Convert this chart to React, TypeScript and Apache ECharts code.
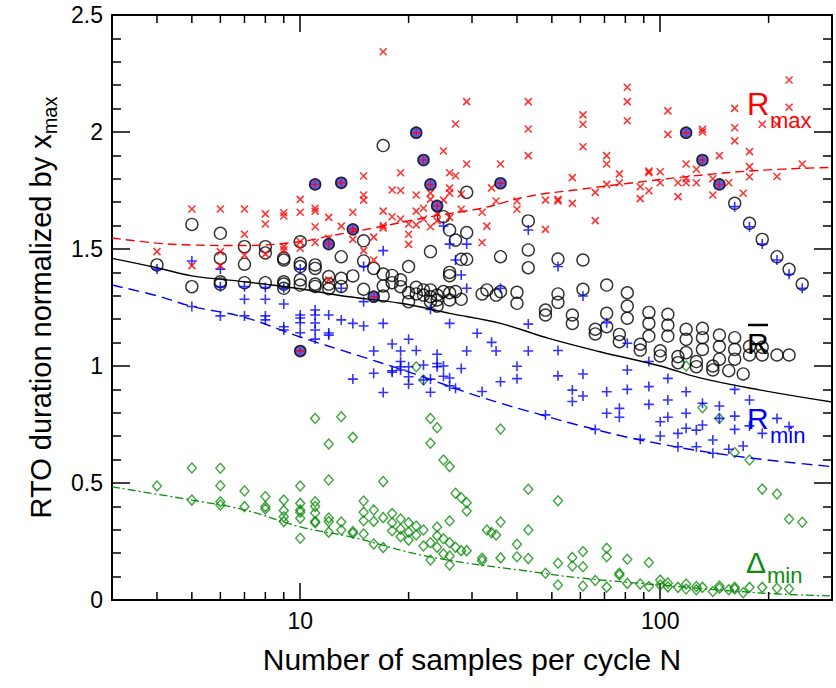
import React, { useEffect, useRef } from "react";
import * as echarts from "echarts";

// ---- Data ----
const xMinorTicks: number[] = [4, 5, 6, 7, 8, 9, 20, 30, 40, 50, 60, 70, 80, 90, 200];
const xLabelValues: number[] = [10, 100];

// R_max (red crosses)
const rMax: [number, number][] = [
  [4, 1.489],
  [5, 1.671], [5, 1.429],
  [6, 1.671], [6, 1.489], [6, 1.429],
  [7, 1.671], [7, 1.563], [7, 1.474],
  [8, 1.65], [8, 1.607], [8, 1.479],
  [9, 1.655], [9, 1.641], [9, 1.51], [9, 1.496],
  [10, 1.712], [10, 1.657], [10, 1.531], [10, 1.503],
  [11, 1.674], [11, 1.662], [11, 1.595], [11, 1.528],
  [12, 1.635], [12, 1.546], [12, 1.368],
  [13, 1.598],
  [14, 1.657], [14, 1.541],
  [15, 1.812], [15, 1.731], [15, 1.709], [15, 1.493],
  [16, 1.551], [16, 1.453],
  [17, 2.343], [17, 1.662], [17, 1.6], [17, 1.59],
  [18, 1.752], [18, 1.638],
  [19, 1.826], [19, 1.75], [19, 1.628],
  [20, 1.607], [20, 1.563], [20, 1.52],
  [21, 1.731], [21, 1.662], [21, 1.603],
  [22, 1.674], [22, 1.628],
  [23, 1.739], [23, 1.712], [23, 1.595],
  [24, 1.652], [24, 1.62],
  [25, 1.919], [25, 1.709],
  [26, 1.826], [26, 1.76], [26, 1.739], [26, 1.635],
  [27, 2.034], [27, 1.813],
  [28, 1.735], [28, 1.67],
  [29, 2.13], [29, 1.863],
  [32, 1.657], [32, 1.528],
  [33, 1.598], [34, 1.761], [35, 1.705], [36, 1.863],
  [40, 1.705], [40, 1.67],
  [43, 2.13], [43, 2.013], [43, 1.899],
  [48, 1.709], [48, 1.584],
  [52, 1.712], [52, 1.705],
  [57, 1.805], [57, 1.695],
  [61, 2.073], [61, 2.033], [61, 1.937],
  [66, 1.742], [66, 1.621],
  [71, 1.899], [71, 1.863], [71, 1.776],
  [77, 1.821], [77, 1.783],
  [81, 2.191], [81, 2.13], [81, 2.048],
  [88, 1.766], [88, 1.715],
  [93, 1.833], [93, 1.826], [93, 1.749],
  [100, 1.83], [100, 1.783],
  [105, 2.09], [105, 1.99],
  [112, 1.783], [112, 1.724],
  [118, 1.863], [118, 1.8], [118, 1.783],
  [126, 1.841], [126, 1.783],
  [131, 2.011], [131, 2.0],
  [140, 1.8], [140, 1.731],
  [146, 1.899], [155, 1.783],
  [161, 2.101], [161, 2.018], [161, 1.962],
  [170, 1.738],
  [177, 1.916], [177, 1.852], [177, 1.809],
  [192, 2.033],
  [211, 2.033], [211, 1.81],
  [228, 2.222], [228, 2.106],
  [248, 1.863],
];

// R mean (black open circles)
const rMean: [number, number][] = [
  [4, 1.432],
  [5, 1.605], [5, 1.339],
  [6, 1.567], [6, 1.461], [6, 1.36], [6, 1.35],
  [7, 1.51], [7, 1.435], [7, 1.356],
  [8, 1.51], [8, 1.483], [8, 1.356],
  [9, 1.461], [9, 1.453], [9, 1.36], [9, 1.35], [9, 1.332],
  [10, 1.531], [10, 1.439], [10, 1.425], [10, 1.368], [10, 1.346],
  [11, 1.432], [11, 1.417], [11, 1.35], [11, 1.34],
  [12, 1.382], [12, 1.35], [12, 1.33],
  [13, 1.467], [13, 1.375], [13, 1.34],
  [14, 1.385],
  [15, 1.535], [15, 1.449], [15, 1.328],
  [16, 1.417],
  [17, 1.942], [17, 1.393], [17, 1.342], [17, 1.299],
  [18, 1.387], [18, 1.356],
  [19, 1.368], [19, 1.339],
  [20, 1.425], [20, 1.313], [20, 1.275],
  [21, 1.336], [21, 1.308],
  [22, 1.325], [22, 1.303],
  [23, 1.489], [23, 1.325], [23, 1.296], [23, 1.275],
  [24, 1.303], [24, 1.282], [24, 1.256],
  [25, 1.638], [25, 1.318],
  [26, 1.581], [26, 1.4], [26, 1.386], [26, 1.313], [26, 1.282],
  [27, 1.538], [27, 1.318],
  [28, 1.456], [28, 1.285],
  [29, 1.742], [29, 1.57], [29, 1.456],
  [32, 1.308], [33, 1.325], [35, 1.303],
  [36, 1.467], [36, 1.318],
  [40, 1.315], [40, 1.268],
  [43, 1.62], [43, 1.496], [43, 1.42],
  [48, 1.239], [48, 1.218],
  [52, 1.457], [52, 1.308], [52, 1.272],
  [57, 1.218], [57, 1.182],
  [61, 1.453], [61, 1.328],
  [66, 1.157], [66, 1.137],
  [71, 1.346], [71, 1.225], [71, 1.168],
  [77, 1.135], [77, 1.104],
  [81, 1.313], [81, 1.256], [81, 1.204],
  [88, 1.093], [88, 1.068],
  [93, 1.229], [93, 1.182], [93, 1.128],
  [100, 1.065], [100, 1.043],
  [105, 1.221], [105, 1.175], [105, 1.128],
  [112, 1.04], [112, 1.014],
  [118, 1.157], [118, 1.114], [118, 1.057],
  [126, 1.019], [126, 0.997],
  [131, 1.161], [131, 1.121], [131, 1.071],
  [140, 1.0], [140, 0.983],
  [146, 1.132], [146, 1.083], [146, 1.029],
  [155, 0.98],
  [161, 1.695], [161, 1.121], [161, 1.071], [161, 1.029],
  [170, 0.966],
  [177, 1.61], [177, 1.083], [177, 1.047],
  [192, 1.541], [192, 1.08], [192, 1.047],
  [211, 1.467], [211, 1.047],
  [228, 1.413], [228, 1.047],
  [248, 1.35],
];

// R_min (blue plus)
const rMin: [number, number][] = [
  [4, 1.414],
  [5, 1.449], [5, 1.254],
  [6, 1.414], [6, 1.339], [6, 1.214],
  [7, 1.339], [7, 1.285], [7, 1.214],
  [8, 1.335], [8, 1.285], [8, 1.214], [8, 1.197],
  [9, 1.332], [9, 1.265], [9, 1.168], [9, 1.154],
  [10, 1.414], [10, 1.218], [10, 1.205], [10, 1.185], [10, 1.142],
  [11, 1.239], [11, 1.218], [11, 1.184], [11, 1.154], [11, 1.115],
  [12, 1.218], [12, 1.141], [12, 1.132],
  [13, 1.332], [13, 1.197],
  [14, 1.182], [14, 0.944],
  [15, 1.425], [15, 1.275], [15, 1.171],
  [16, 1.064], [16, 0.969],
  [17, 1.493], [17, 1.182], [17, 0.887],
  [18, 1.094], [18, 0.98], [18, 0.973],
  [19, 1.064], [19, 1.019], [19, 0.997], [19, 0.983],
  [20, 1.114], [20, 0.997], [20, 0.954], [20, 0.922],
  [21, 1.066],
  [22, 1.004], [22, 0.94],
  [23, 1.242], [23, 0.944], [23, 0.888],
  [24, 1.05], [24, 1.011], [24, 0.997],
  [25, 1.598], [25, 1.0], [25, 0.956],
  [26, 1.521], [26, 1.182], [26, 0.949], [26, 0.915],
  [27, 1.453], [27, 0.905],
  [28, 1.389], [28, 0.989],
  [29, 1.521], [29, 1.332], [29, 1.064],
  [31, 1.14], [32, 0.891], [34, 1.101], [35, 1.064],
  [36, 1.332], [36, 0.933],
  [40, 0.999], [40, 0.946],
  [43, 1.581], [43, 1.179], [43, 1.064],
  [48, 0.791],
  [52, 1.425], [52, 1.066], [52, 0.958],
  [57, 0.897], [57, 0.848],
  [61, 1.299], [61, 0.966], [61, 0.872],
  [66, 0.729],
  [71, 1.185], [71, 0.89], [71, 0.798],
  [77, 0.819], [77, 0.781],
  [81, 1.097], [81, 0.983], [81, 0.9],
  [88, 0.687],
  [93, 1.019], [93, 0.912], [93, 0.836],
  [100, 0.762], [100, 0.701],
  [105, 0.947], [105, 0.855], [105, 0.781],
  [112, 0.712], [112, 0.655],
  [118, 0.89], [118, 0.798], [118, 0.734],
  [126, 0.726], [126, 0.655],
  [131, 0.841], [131, 0.748],
  [140, 0.684], [140, 0.627],
  [146, 0.829], [146, 0.776],
  [155, 0.644],
  [161, 1.681], [161, 0.9], [161, 0.786], [161, 0.729],
  [170, 0.658],
  [177, 1.595], [177, 0.855], [177, 0.744],
  [192, 1.521], [192, 0.712],
  [211, 1.453], [211, 0.776],
  [228, 1.392], [228, 0.741],
  [248, 1.332],
];

// Delta_min (green open diamonds)
const dMin: [number, number][] = [
  [4, 0.487],
  [5, 0.564], [5, 0.427],
  [6, 0.563], [6, 0.488], [6, 0.42], [6, 0.406],
  [7, 0.466], [7, 0.399],
  [8, 0.442], [8, 0.399], [8, 0.389],
  [9, 0.427], [9, 0.382], [9, 0.356], [9, 0.335],
  [10, 0.487], [10, 0.413], [10, 0.385], [10, 0.375], [10, 0.349], [10, 0.264],
  [11, 0.776], [11, 0.42], [11, 0.4], [11, 0.372], [11, 0.335], [11, 0.33],
  [12, 0.667], [12, 0.513], [12, 0.35], [12, 0.335], [12, 0.29],
  [13, 0.783], [13, 0.333], [13, 0.299],
  [14, 0.695], [14, 0.293], [14, 0.285],
  [15, 0.423], [15, 0.375], [15, 0.339], [15, 0.282],
  [16, 0.385], [16, 0.336], [16, 0.239],
  [17, 0.506], [17, 0.352], [17, 0.224],
  [18, 0.37], [18, 0.33], [18, 0.296],
  [19, 0.346], [19, 0.303], [19, 0.27],
  [20, 0.33], [20, 0.29], [20, 0.256],
  [21, 0.997], [21, 0.316], [21, 0.278],
  [22, 0.94], [22, 0.299], [22, 0.231],
  [23, 0.776], [23, 0.67], [23, 0.245], [23, 0.171],
  [24, 0.736], [24, 0.312], [24, 0.274], [24, 0.225],
  [25, 0.598], [25, 0.262], [25, 0.197],
  [26, 0.57], [26, 0.338], [26, 0.245], [26, 0.188], [26, 0.15],
  [27, 0.456], [27, 0.225],
  [28, 0.437], [28, 0.211],
  [29, 0.416], [29, 0.38], [29, 0.211],
  [32, 0.178], [32, 0.168],
  [33, 0.299], [34, 0.288], [35, 0.278],
  [36, 0.731], [36, 0.333], [36, 0.18],
  [40, 0.238], [40, 0.185],
  [43, 0.473], [43, 0.299], [43, 0.177],
  [48, 0.114],
  [52, 0.424], [52, 0.157], [52, 0.064],
  [57, 0.182], [57, 0.145],
  [61, 0.207], [61, 0.142], [61, 0.06],
  [66, 0.083],
  [71, 0.221], [71, 0.185], [71, 0.055],
  [77, 0.114], [77, 0.107],
  [81, 0.174], [81, 0.071],
  [88, 0.068],
  [93, 0.16], [93, 0.058],
  [100, 0.085], [100, 0.064],
  [105, 0.073], [105, 0.056],
  [112, 0.054],
  [118, 1.0], [118, 0.068], [118, 0.047],
  [126, 0.058], [126, 0.044],
  [131, 0.822], [131, 0.054],
  [140, 0.036],
  [146, 0.776], [146, 0.06], [146, 0.05],
  [155, 0.044],
  [161, 0.63], [161, 0.054], [161, 0.047],
  [170, 0.031],
  [177, 0.598], [177, 0.054],
  [192, 0.474], [192, 0.054],
  [211, 0.453], [211, 0.05],
  [228, 0.346], [228, 0.047],
  [248, 0.332],
];

// Points where R_max = R_mean = R_min (filled markers)
const rSingle: [number, number][] = [
  [10, 1.064], [11, 1.776], [12, 1.521], [13, 1.783], [14, 1.584], [16, 1.296],
  [21, 1.997], [22, 1.88], [23, 1.776], [24, 1.684], [36, 1.781],
  [118, 1.997], [131, 1.88], [146, 1.776],
];

// Fitted curves
const fitMax: [number, number][] = [
  [3, 1.547], [4, 1.525], [5, 1.517], [7, 1.515], [10, 1.531], [12, 1.555], [16, 1.59],
  [23, 1.638], [32, 1.675], [43, 1.725], [60, 1.755], [81, 1.78], [123, 1.812], [189, 1.836], [300, 1.849],
];
const fitMean: [number, number][] = [
  [3, 1.46], [4, 1.42], [5, 1.385], [7, 1.36], [10, 1.33], [13, 1.30], [19, 1.268], [26, 1.225],
  [36, 1.182], [49, 1.118], [68, 1.061], [100, 1.0], [129, 0.949], [190, 0.897], [300, 0.846],
];
const fitMin: [number, number][] = [
  [3, 1.346], [4, 1.30], [5, 1.255], [7, 1.208], [10, 1.124], [14, 1.052], [20, 0.975], [31.6, 0.868],
  [47, 0.79], [60, 0.745], [88, 0.684], [153, 0.62], [300, 0.57],
];
const fitDelta: [number, number][] = [
  [3, 0.483], [5, 0.427], [7, 0.385], [10, 0.313], [13.8, 0.27], [23, 0.184], [47, 0.115],
  [60, 0.094], [100, 0.064], [190, 0.03], [300, 0.017],
];

const RED = "#ff0000";
const BLUE = "#0000ff";
const GREEN = "#0c8c0c";
const FONT = "'Liberation Sans', Arial, Helvetica, sans-serif";

export default function App() {
  const ref = useRef<HTMLDivElement>(null);

  useEffect(() => {
    if (!ref.current) return;
    const chart = echarts.init(ref.current, null, { renderer: "svg" });

    const axisLine = { show: true, onZero: false, lineStyle: { color: "#000", width: 2 } };
    const tickStyle = { color: "#000", width: 1.5 };

    const xBase: any = {
      type: "log",
      logBase: 10,
      min: 3,
      max: 300,
      splitLine: { show: false },
      axisLine,
      axisTick: { show: true, inside: true, length: 17, lineStyle: tickStyle },
    };
    const yBase: any = {
      type: "value",
      min: 0,
      max: 2.5,
      interval: 0.5,
      splitLine: { show: false },
      axisLine,
      axisTick: { show: true, inside: true, length: 18, lineStyle: tickStyle },
      minorTick: { show: true, splitNumber: 5, length: 9, lineStyle: tickStyle },
    };

    const crossPath = "path://M0,0L10,10M10,0L0,10";
    const plusPath = "path://M5,0L5,10M0,5L10,5";

    const option: any = {
      animation: false,
      backgroundColor: "#fff",
      grid: { left: 112, right: 4, top: 15, bottom: 88, containLabel: false },
      xAxis: [
        {
          ...xBase,
          position: "bottom",
          name: "Number of samples per cycle N",
          nameLocation: "middle",
          nameGap: 44,
          nameTextStyle: { fontSize: 30, color: "#000", fontFamily: FONT },
          axisLabel: {
            show: true,
            margin: 9,
            fontSize: 23,
            color: "#000",
            fontFamily: FONT,
            showMinLabel: false,
            showMaxLabel: false,
            formatter: (v: number) => {
              const hit = xLabelValues.find((t) => Math.abs(v - t) < 1e-6 * t);
              return hit !== undefined ? String(hit) : "";
            },
          },
        },
        {
          ...xBase,
          position: "top",
          axisLabel: { show: false },
        },
      ],
      yAxis: [
        {
          ...yBase,
          position: "left",
          name: "RTO duration normalized by x{sub|max}",
          nameLocation: "middle",
          nameRotate: 90,
          nameGap: 52,
          nameTextStyle: {
            fontSize: 29,
            color: "#000",
            fontFamily: FONT,
            rich: { sub: { fontSize: 20, color: "#000", fontFamily: FONT, padding: [18, 0, 0, 0] } },
          },
          axisLabel: {
            show: true,
            margin: 9,
            fontSize: 23,
            color: "#000",
            fontFamily: FONT,
            formatter: (v: number) => String(v),
          },
        },
        {
          ...yBase,
          position: "right",
          axisLabel: { show: false },
        },
      ],
      series: [
        {
          type: "custom",
          xAxisIndex: 0,
          yAxisIndex: 0,
          silent: true,
          clip: false,
          data: xMinorTicks.map((v) => [v, 0]),
          renderItem: (_params: any, api: any) => {
            const x = api.value(0);
            const b = api.coord([x, 0]);
            const t = api.coord([x, 2.5]);
            const style = { stroke: "#000", lineWidth: 1.5 };
            return {
              type: "group",
              children: [
                { type: "line", shape: { x1: b[0], y1: b[1], x2: b[0], y2: b[1] - 8 }, style },
                { type: "line", shape: { x1: t[0], y1: t[1], x2: t[0], y2: t[1] + 8 }, style },
              ],
            };
          },
        },
        {
          name: "fitMax",
          type: "line",
          data: fitMax,
          smooth: 0.4,
          symbol: "none",
          silent: true,
          lineStyle: { color: RED, width: 1.4, type: [9, 5] },
        },
        {
          name: "fitMean",
          type: "line",
          data: fitMean,
          smooth: 0.4,
          symbol: "none",
          silent: true,
          lineStyle: { color: "#000", width: 1.4, type: "solid" },
        },
        {
          name: "fitMin",
          type: "line",
          data: fitMin,
          smooth: 0.4,
          symbol: "none",
          silent: true,
          lineStyle: { color: BLUE, width: 1.4, type: [11, 6] },
        },
        {
          name: "fitDelta",
          type: "line",
          data: fitDelta,
          smooth: 0.4,
          symbol: "none",
          silent: true,
          lineStyle: { color: GREEN, width: 1.3, type: [8, 3, 2, 3] },
        },
        {
          name: "dMin",
          type: "scatter",
          data: dMin,
          symbol: "diamond",
          symbolSize: [9, 10],
          itemStyle: { color: "rgba(0,0,0,0)", borderColor: GREEN, borderWidth: 1.4 },
        },
        {
          name: "rMean",
          type: "scatter",
          data: rMean,
          symbol: "circle",
          symbolSize: 12,
          itemStyle: { color: "rgba(0,0,0,0)", borderColor: "#000", borderWidth: 1.4 },
        },
        {
          name: "rMin",
          type: "scatter",
          data: rMin,
          symbol: plusPath,
          symbolSize: 10,
          itemStyle: { color: "rgba(0,0,0,0)", borderColor: BLUE, borderWidth: 1.6 },
        },
        {
          name: "rMax",
          type: "scatter",
          data: rMax,
          symbol: crossPath,
          symbolSize: 7,
          itemStyle: { color: "rgba(0,0,0,0)", borderColor: RED, borderWidth: 1.6 },
        },
        {
          name: "rSingle",
          type: "scatter",
          data: rSingle,
          symbol: "circle",
          symbolSize: 11,
          itemStyle: { color: "#2a3cf0", borderColor: "#000", borderWidth: 1.6 },
        },
        {
          name: "rSingleCross",
          type: "scatter",
          data: rSingle,
          symbol: plusPath,
          symbolSize: 8,
          itemStyle: { color: "rgba(0,0,0,0)", borderColor: RED, borderWidth: 1.5 },
        },
      ],
      graphic: [
        { type: "text", x: 747, y: 104, style: { text: "R", fill: RED, fontSize: 31, fontFamily: FONT, align: "left", verticalAlign: "middle" } },
        { type: "text", x: 770, y: 120, style: { text: "max", fill: RED, fontSize: 22, fontFamily: FONT, align: "left", verticalAlign: "middle" } },
        { type: "text", x: 747, y: 343, style: { text: "R", fill: "#000", fontSize: 30, fontFamily: FONT, align: "left", verticalAlign: "middle" } },
        { type: "line", shape: { x1: 748, y1: 325, x2: 768, y2: 325 }, style: { stroke: "#000", lineWidth: 2.5 } },
        { type: "text", x: 747, y: 418, style: { text: "R", fill: BLUE, fontSize: 30, fontFamily: FONT, align: "left", verticalAlign: "middle" } },
        { type: "text", x: 770, y: 435, style: { text: "min", fill: BLUE, fontSize: 22, fontFamily: FONT, align: "left", verticalAlign: "middle" } },
        { type: "text", x: 746, y: 562, style: { text: "Δ", fill: GREEN, fontSize: 30, fontFamily: FONT, align: "left", verticalAlign: "middle" } },
        { type: "text", x: 767, y: 575, style: { text: "min", fill: GREEN, fontSize: 22, fontFamily: FONT, align: "left", verticalAlign: "middle" } },
      ],
    };

    chart.setOption(option);
    return () => chart.dispose();
  }, []);

  return (
    <div
      ref={ref}
      style={{ position: "fixed", left: 0, top: 0, width: 836, height: 688, background: "#fff" }}
    />
  );
}
